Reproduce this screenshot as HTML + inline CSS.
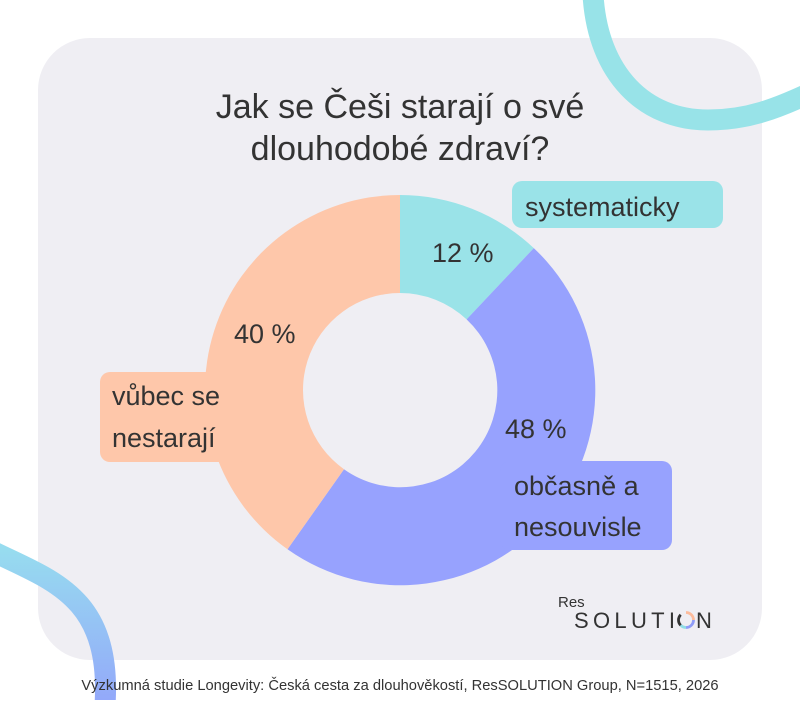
<!DOCTYPE html>
<html><head><meta charset="utf-8"><style>
html,body{margin:0;padding:0;background:#fff}
body{width:800px;height:700px;overflow:hidden;font-family:"Liberation Sans",sans-serif}
</style></head><body>
<svg width="800" height="700" viewBox="0 0 800 700" xmlns="http://www.w3.org/2000/svg" font-family="Liberation Sans, sans-serif">
<defs>
<linearGradient id="bg" x1="0" y1="0" x2="0" y2="1">
<stop offset="0" stop-color="#97dcef"/><stop offset="1" stop-color="#93a7fa"/>
</linearGradient>
</defs>
<rect x="0" y="0" width="800" height="700" fill="#fff"/>
<rect x="38" y="38" width="724" height="622" rx="52" fill="#efeef3"/>
<path d="M 593 -5 C 598 75, 645 120, 708 120 C 748 120, 778 108, 812 92" fill="none" stroke="#98e3e8" stroke-width="21"/>
<path d="M -10 550 C 50 580, 112 595, 105 705" fill="none" stroke="url(#bg)" stroke-width="21"/>
<g transform="translate(400,390)">
<path d="M0,-195 A195,195 0 0 1 133.8,-141.9 L66.6,-70.6 A97,97 0 0 0 0,-97 Z" fill="#9ae3e8"/>
<path d="M133.8,-141.9 A195,195 0 0 1 -112.5,159.3 L-56,79.2 A97,97 0 0 0 66.6,-70.6 Z" fill="#97a2fe"/>
<path d="M-112.5,159.3 A195,195 0 0 1 0,-195 L0,-97 A97,97 0 0 0 -56,79.2 Z" fill="#fec7aa"/>
</g>
<rect x="512" y="181" width="211" height="47" rx="10" fill="#9ae3e8"/>
<rect x="100" y="372" width="150" height="90" rx="10" fill="#fec7aa"/>
<rect x="500" y="461" width="172" height="89" rx="10" fill="#97a2fe"/>
<g fill="#333" font-size="27">
<text x="400" y="118" font-size="34" text-anchor="middle">Jak se Češi starají o své</text>
<text x="400" y="160" font-size="34" text-anchor="middle">dlouhodobé zdraví?</text>
<text x="525" y="216">systematicky</text>
<text x="432" y="262">12 %</text>
<text x="234" y="343">40 %</text>
<text x="505" y="438">48 %</text>
<text x="112" y="405">vůbec se</text>
<text x="112" y="447">nestarají</text>
<text x="514" y="495">občasně a</text>
<text x="514" y="536">nesouvisle</text>
<text x="558" y="607" font-size="15">Res</text>
<text x="574" y="628" font-size="22" textLength="101" lengthAdjust="spacing">SOLUTI</text>
<text x="696" y="628" font-size="22">N</text>
<text x="400" y="690" font-size="14.7" text-anchor="middle">Výzkumná studie Longevity: Česká cesta za dlouhověkostí, ResSOLUTION Group, N=1515, 2026</text>
</g>
<g transform="translate(686,620)" fill="none" stroke-width="2.8">
<path d="M0,-7.5 A7.5,7.5 0 0 1 7.5,0" stroke="#fdbb9b"/>
<path d="M7.5,0 A7.5,7.5 0 0 1 0,7.5" stroke="#8f9cf8"/>
<path d="M0,7.5 A7.5,7.5 0 0 1 -5.3,5.3" stroke="#8fdde6"/>
<path d="M-5.3,5.3 A7.5,7.5 0 0 1 -5.3,-5.3" stroke="#333"/>
</g>
</svg>
</body></html>
